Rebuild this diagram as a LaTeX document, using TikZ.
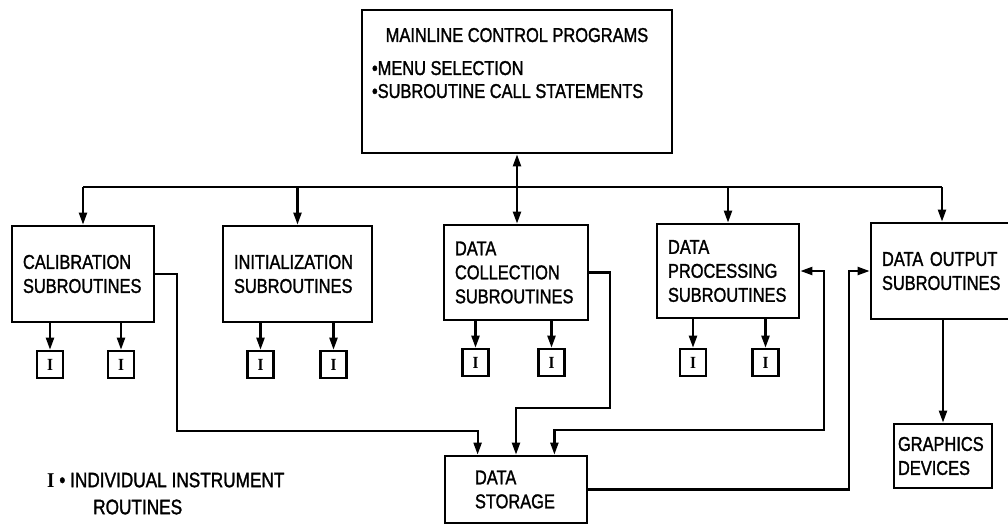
\documentclass[tikz,border=0pt]{standalone}
\usepackage{fontspec}
\setmainfont{Liberation Sans}[FakeStretch=0.82,FakeBold=1.4]
\newfontfamily\serI{Liberation Serif Bold}[FakeStretch=0.9]
\usetikzlibrary{positioning}
\usetikzlibrary{calc}
\usetikzlibrary{arrows.meta}

\begin{document}
\begin{tikzpicture}[x=1pt,y=-1pt,
    box/.style={draw, line width=2.8pt, inner xsep=11pt, align=left, font=\fontsize{20}{24}\selectfont},
    ibox/.style={draw, line width=2.6pt, minimum width=26pt, minimum height=27pt, inner sep=0pt, font=\serI\fontsize{17}{17}\selectfont},
    wire/.style={line width=2.2pt},
    arr/.style={wire, -{Triangle[length=12pt,width=8pt]}},
    arrs/.style={wire, {Triangle[length=12pt,width=8pt]}-{Triangle[length=12pt,width=8pt]}}]
  \useasboundingbox (0,0) rectangle (1008,525);

  % Programa principal
  \node [draw, line width=2.8pt, inner sep=0pt, font=\fontsize{20}{23}\selectfont] (main) at (517,81.5)
    {\parbox[c][143pt][t]{310pt}{\vspace*{18pt}\centering MAINLINE CONTROL PROGRAMS\par\vspace{10pt}%
     \raggedright\leftskip=10pt •MENU SELECTION\par •SUBROUTINE CALL STATEMENTS}};

  % Subrotinas
  \node [box, text width=120pt, minimum height=96pt] (calib) at (83,274) {CALIBRATION\\SUBROUTINES};
  \node [box, text width=127pt, minimum height=96pt] (init) at (297.5,274) {INITIALIZATION\\SUBROUTINES};
  \node [box, text width=122pt, minimum height=95pt] (coll) at (516,272.5) {DATA\\COLLECTION\\SUBROUTINES};
  \node [box, text width=120pt, minimum height=94pt] (proc) at (728,271) {DATA\\PROCESSING\\SUBROUTINES};
  \node [box, text width=120pt, minimum height=96pt] (out) at (942,271) {DATA OUTPUT\\SUBROUTINES};
  \node [box, inner xsep=30pt, text width=82pt, minimum height=67pt] (store) at (516,489.5) {DATA\\STORAGE};
  \node [box, inner xsep=4pt, text width=90pt, minimum height=64pt] (gfx) at (943,456) {GRAPHICS\\DEVICES};

  % Rotinas individuais
  \node [ibox] (calib1) at (50,364.5) {I};
  \node [ibox] (calib2) at (121,364.5) {I};
  \node [ibox] (init1) at (260.5,364.5) {I};
  \node [ibox] (init2) at (333.5,364.5) {I};
  \node [ibox] (coll1) at (475.5,362.5) {I};
  \node [ibox] (coll2) at (551.5,362.5) {I};
  \node [ibox] (proc1) at (693,362.5) {I};
  \node [ibox] (proc2) at (765.5,362.5) {I};

  % Legenda
  \node [anchor=west, inner sep=0pt, align=left, font=\fontsize{21}{27}\selectfont] (legend) at (47,493.5)
    {{\serI I} • INDIVIDUAL INSTRUMENT\\\hspace*{46pt}ROUTINES};

  % Conexões
  \draw [arrs] (main.south) -- (main.south |- coll.north);
  \coordinate (bus) at (0,187);
  \draw [wire] (calib.north |- bus) -- (out.north |- bus);
  \draw [arr] (calib.north |- bus) -- (calib.north);
  \draw [arr] (init.north |- bus) -- (init.north);
  \draw [arr] (proc.north |- bus) -- (proc.north);
  \draw [arr] (out.north |- bus) -- (out.north);

  \draw [arr] (calib1 |- calib.south) -- (calib1);
  \draw [arr] (calib2 |- calib.south) -- (calib2);
  \draw [arr] (init1 |- init.south) -- (init1);
  \draw [arr] (init2 |- init.south) -- (init2);
  \draw [arr] (coll1 |- coll.south) -- (coll1);
  \draw [arr] (coll2 |- coll.south) -- (coll2);
  \draw [arr] (proc1 |- proc.south) -- (proc1);
  \draw [arr] (proc2 |- proc.south) -- (proc2);

  \coordinate (k1) at (177,431);
  \coordinate (k2) at (610,408);
  \coordinate (k3) at (824,430);
  \coordinate (k4) at (849,271);
  \draw [arr] (calib.east) -| (k1) -| ($(store.north west)+(34,0)$);
  \draw [arr] (coll.east) -| (k2) -| (store.north);
  \draw [arrs] (proc.east) -| (k3) -| ($(store.north east)+(-34,0)$);
  \draw [arr] (store.east) -| (k4) -- (out.west);
  \draw [arr] (gfx.north |- out.south) -- (gfx.north);
\end{tikzpicture}
\end{document}
